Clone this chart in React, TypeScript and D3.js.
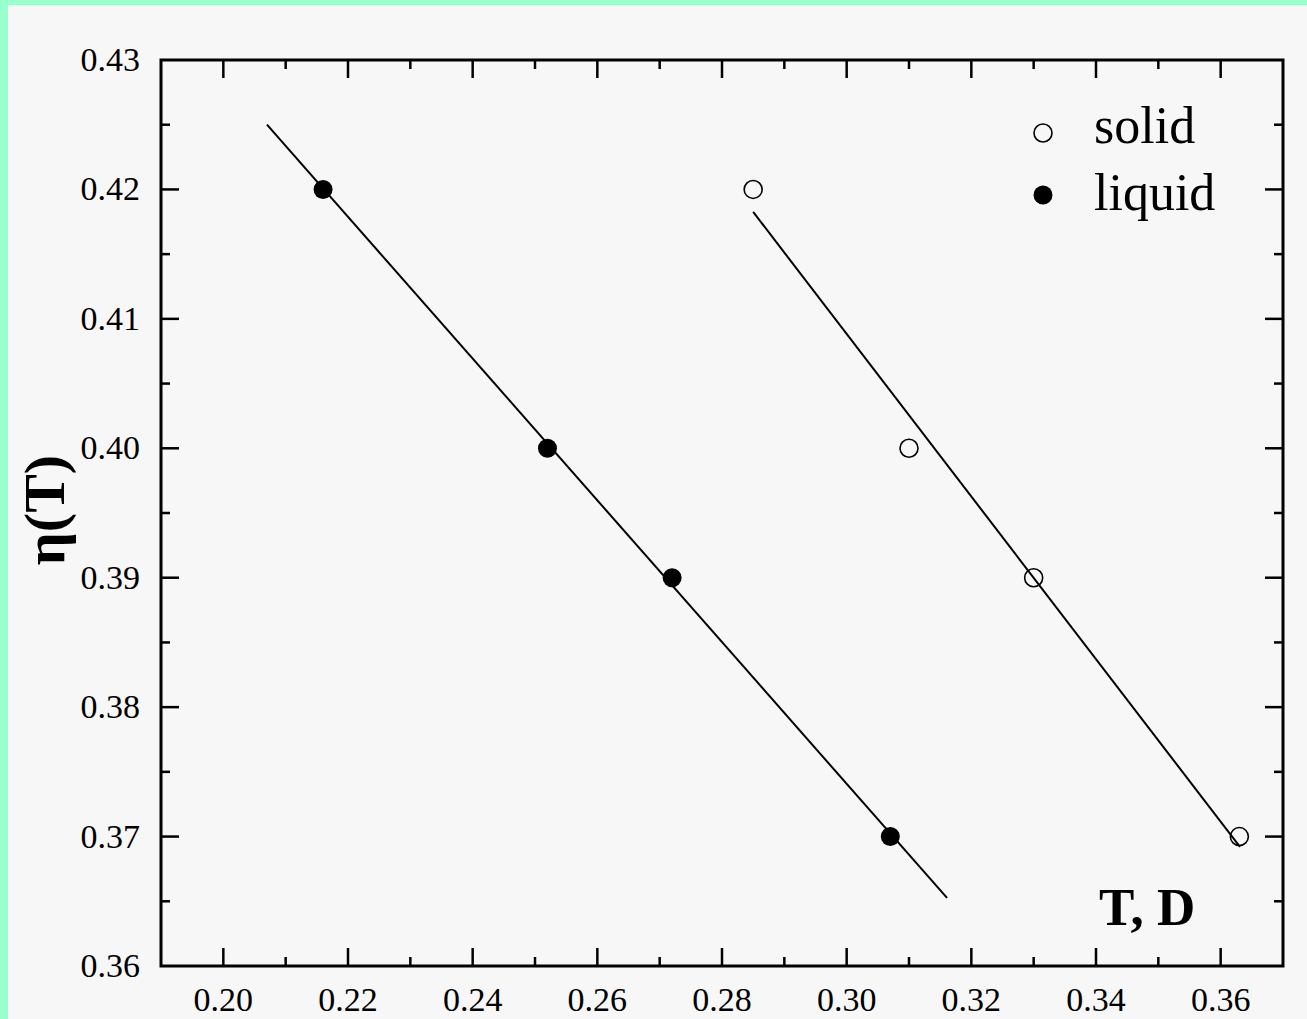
import React from "react";
import * as d3 from "d3";

const liquidT = [0.216, 0.252, 0.272, 0.307];
const liquidEta = [0.42, 0.4, 0.39, 0.37];
const solidT = [0.285, 0.31, 0.33, 0.363];
const solidEta = [0.42, 0.4, 0.39, 0.37];
const liquidFitT = [0.207, 0.3161];
const liquidFitEta = [0.425, 0.36526];
const solidFitT = [0.285, 0.3631];
const solidFitEta = [0.41826, 0.3692];
const xMajorTicks = [0.2, 0.22, 0.24, 0.26, 0.28, 0.3, 0.32, 0.34, 0.36];
const xMinorTicks = [0.19, 0.21, 0.23, 0.25, 0.27, 0.29, 0.31, 0.33, 0.35, 0.37];
const yMajorTicks = [0.36, 0.37, 0.38, 0.39, 0.4, 0.41, 0.42, 0.43];
const yMinorTicks = [0.365, 0.375, 0.385, 0.395, 0.405, 0.415, 0.425];

const W = 1307;
const H = 1019;
const L = 161, R = 1283, T = 60, B = 966;

export default function App() {
  const x = d3.scaleLinear().domain([0.19, 0.37]).range([L, R]);
  const y = d3.scaleLinear().domain([0.36, 0.43]).range([B, T]);
  const line = d3
    .line<[number, number]>()
    .x((d) => x(d[0]))
    .y((d) => y(d[1]));
  const liqFit = liquidFitT.map((t, i) => [t, liquidFitEta[i]] as [number, number]);
  const solFit = solidFitT.map((t, i) => [t, solidFitEta[i]] as [number, number]);
  const serif = "'Liberation Serif', 'Times New Roman', serif";
  const major = 18, minor = 9;
  const inner = (v: number) => v > 0.1905 && v < 0.3695;
  const innerY = (v: number) => v > 0.3605 && v < 0.4295;
  return (
    <svg
      width={W}
      height={H}
      style={{ position: "absolute", left: 0, top: 0 }}
      fontFamily={serif}
    >
      <rect x={0} y={0} width={W} height={H} fill="#99ffcc" />
      <rect x={8} y={5} width={W - 8} height={H - 5} fill="#f7f7f7" />
      <g stroke="#000" strokeWidth={2.5}>
        {xMajorTicks.map((v) => (
          <g key={"xM" + v}>
            <line x1={x(v)} x2={x(v)} y1={B} y2={B - major} />
            <line x1={x(v)} x2={x(v)} y1={T} y2={T + major} />
          </g>
        ))}
        {xMinorTicks.filter(inner).map((v) => (
          <g key={"xm" + v}>
            <line x1={x(v)} x2={x(v)} y1={B} y2={B - minor} />
            <line x1={x(v)} x2={x(v)} y1={T} y2={T + minor} />
          </g>
        ))}
        {yMajorTicks.filter(innerY).map((v) => (
          <g key={"yM" + v}>
            <line x1={L} x2={L + major} y1={y(v)} y2={y(v)} />
            <line x1={R} x2={R - major} y1={y(v)} y2={y(v)} />
          </g>
        ))}
        {yMinorTicks.map((v) => (
          <g key={"ym" + v}>
            <line x1={L} x2={L + minor} y1={y(v)} y2={y(v)} />
            <line x1={R} x2={R - minor} y1={y(v)} y2={y(v)} />
          </g>
        ))}
      </g>
      <rect x={L} y={T} width={R - L} height={B - T} fill="none" stroke="#000" strokeWidth={3} />
      <g fontSize={34} fill="#000">
        {xMajorTicks.map((v) => (
          <text key={"xl" + v} x={x(v)} y={1011} textAnchor="middle">
            {v.toFixed(2)}
          </text>
        ))}
        {yMajorTicks.map((v) => (
          <text key={"yl" + v} x={140} y={y(v) + 11} textAnchor="end">
            {v.toFixed(2)}
          </text>
        ))}
      </g>
      <path d={line(liqFit) || ""} fill="none" stroke="#000" strokeWidth={2} />
      <path d={line(solFit) || ""} fill="none" stroke="#000" strokeWidth={2} />
      {liquidT.map((t, i) => (
        <circle key={"l" + i} cx={x(t)} cy={y(liquidEta[i])} r={9.5} fill="#000" />
      ))}
      {solidT.map((t, i) => (
        <circle
          key={"s" + i}
          cx={x(t)}
          cy={y(solidEta[i])}
          r={9}
          fill="none"
          stroke="#000"
          strokeWidth={1.6}
        />
      ))}
      <circle cx={1043} cy={133} r={9} fill="none" stroke="#000" strokeWidth={1.6} />
      <text x={1094} y={143} fontSize={52}>solid</text>
      <circle cx={1043} cy={195} r={9.5} fill="#000" />
      <text x={1094} y={210} fontSize={52}>liquid</text>
      <text x={1099} y={925} fontSize={53} fontWeight="bold">T, D</text>
      <text
        transform="translate(64,510) rotate(-90)"
        textAnchor="middle"
        fontSize={58}
        fontWeight="bold"
      >
        η(T)
      </text>
    </svg>
  );
}
